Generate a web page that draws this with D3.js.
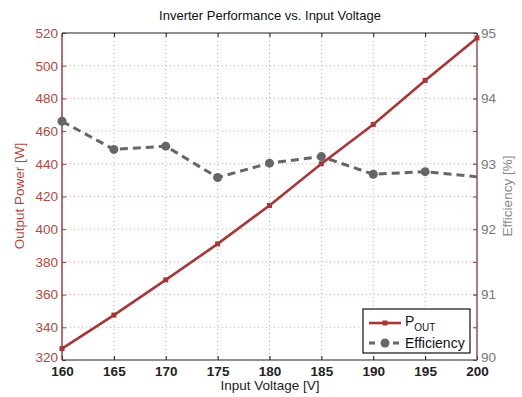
<!DOCTYPE html>
<html>
<head>
<meta charset="utf-8">
<script src="https://cdn.jsdelivr.net/npm/d3@7"></script>
<style>
  body { margin: 0; background: #fff; }
  text { font-family: "Liberation Sans", Arial, sans-serif; }
</style>
</head>
<body>
<svg id="chart" width="522" height="397"></svg>
<script>
// data
const voltage = [160, 165, 170, 175, 180, 185, 190, 195, 200];
const powerOut = [327, 347.5, 369, 391, 414.5, 440, 464, 491, 517];
const efficiency = [93.65, 93.22, 93.27, 92.79, 93.01, 93.11, 92.84, 92.88, 92.8];
const powerTicks = [320, 340, 360, 380, 400, 420, 440, 460, 480, 500, 520];
const effTicks = [90, 91, 92, 93, 94, 95];
const voltTicks = [160, 165, 170, 175, 180, 185, 190, 195, 200];

const RED = "#a83636";
const GREY = "#666";
const margin = { top: 33, right: 45, bottom: 37, left: 62 };
const width = 522 - margin.left - margin.right;
const height = 397 - margin.top - margin.bottom;

const svg = d3.select("#chart");
const g = svg.append("g").attr("transform", `translate(${margin.left},${margin.top})`);

const x = d3.scaleLinear().domain([160, 200]).range([0, width]);
const yP = d3.scaleLinear().domain([320, 520]).range([height, 0]);
const yE = d3.scaleLinear().domain([90, 95]).range([height, 0]);

// grid
g.append("g").selectAll("line").data(voltTicks.slice(1, -1)).join("line")
  .attr("x1", (d) => x(d)).attr("x2", (d) => x(d))
  .attr("y1", 0).attr("y2", height)
  .attr("stroke", "#999").attr("stroke-width", 0.8)
  .attr("stroke-dasharray", "1,3");
g.append("g").selectAll("line").data(powerTicks.slice(1, -1)).join("line")
  .attr("x1", 0).attr("x2", width)
  .attr("y1", (d) => yP(d)).attr("y2", (d) => yP(d))
  .attr("stroke", "#e08a8a").attr("stroke-width", 0.8)
  .attr("stroke-dasharray", "1,3");

// axes
const styleAxis = (sel, color, size) => {
  sel.select(".domain").remove();
  sel.selectAll("line").attr("stroke", color);
  sel.selectAll("text").attr("fill", color).attr("font-size", size)
    .attr("font-family", "Liberation Sans, Arial, sans-serif");
  return sel;
};

const xAxis = g.append("g").attr("transform", `translate(0,${height})`)
  .call(d3.axisBottom(x).tickValues(voltTicks).tickSize(-4).tickPadding(6).tickFormat(d3.format("d")));
styleAxis(xAxis, "#111", 13.5);
xAxis.selectAll("text").attr("font-weight", "bold").attr("fill", "#222");

g.append("g")
  .call(d3.axisTop(x).tickValues(voltTicks).tickSize(-4).tickFormat(""))
  .call((s) => styleAxis(s, "#111", 12));

const leftAxis = g.append("g")
  .call(d3.axisLeft(yP).tickValues(powerTicks).tickSize(-4).tickPadding(4));
styleAxis(leftAxis, RED, 13.5);
leftAxis.selectAll("text").attr("fill", "#b4483c");

g.append("g").attr("transform", `translate(${width},0)`)
  .call(d3.axisLeft(yP).tickValues(powerTicks).tickSize(4).tickFormat(""))
  .call((s) => styleAxis(s, RED, 12));

const rightAxis = g.append("g").attr("transform", `translate(${width},0)`)
  .call(d3.axisRight(yE).tickValues(effTicks).tickSize(-4).tickPadding(4).tickFormat(d3.format("d")));
styleAxis(rightAxis, "#777", 13.5);
rightAxis.select(".tick:first-of-type text").attr("dy", "0.1em");
leftAxis.select(".tick:first-of-type text").attr("dy", "0.1em");

// frame
g.append("line").attr("x1", 0).attr("x2", width).attr("y1", 0).attr("y2", 0)
  .attr("stroke", "#222").attr("stroke-width", 1.2);
g.append("line").attr("x1", 0).attr("x2", width).attr("y1", height).attr("y2", height)
  .attr("stroke", "#222").attr("stroke-width", 1.2);
g.append("line").attr("x1", 0).attr("x2", 0).attr("y1", 0).attr("y2", height)
  .attr("stroke", "#9c3030").attr("stroke-width", 1.4);
g.append("line").attr("x1", width).attr("x2", width).attr("y1", 0).attr("y2", height)
  .attr("stroke", "#8a4646").attr("stroke-width", 1.4);

// efficiency series
const effData = voltage.map((v, i) => ({ v, val: efficiency[i] }));
g.append("path").datum(effData)
  .attr("fill", "none").attr("stroke", GREY).attr("stroke-width", 3)
  .attr("stroke-dasharray", "8,5")
  .attr("d", d3.line().x((d) => x(d.v)).y((d) => yE(d.val)));
g.append("g").selectAll("circle").data(effData.slice(0, -1)).join("circle")
  .attr("cx", (d) => x(d.v)).attr("cy", (d) => yE(d.val)).attr("r", 4.5)
  .attr("fill", GREY);

// power series
const powData = voltage.map((v, i) => ({ v, val: powerOut[i] }));
g.append("path").datum(powData)
  .attr("fill", "none").attr("stroke", RED).attr("stroke-width", 2.6)
  .attr("d", d3.line().x((d) => x(d.v)).y((d) => yP(d.val)));
g.append("g").selectAll("rect").data(powData).join("rect")
  .attr("x", (d) => x(d.v) - 2.5).attr("y", (d) => yP(d.val) - 2.5)
  .attr("width", 5).attr("height", 5).attr("fill", RED);

// labels
svg.append("text").attr("x", 270).attr("y", 20).attr("text-anchor", "middle")
  .attr("font-size", 13).attr("fill", "#111")
  .text("Inverter Performance vs. Input Voltage");
svg.append("text").attr("x", 270).attr("y", 390).attr("text-anchor", "middle")
  .attr("font-size", 13.5).attr("fill", "#222")
  .text("Input Voltage [V]");
svg.append("text").attr("transform", "translate(24,196) rotate(-90)")
  .attr("text-anchor", "middle").attr("font-size", 13.5).attr("fill", "#b4483c")
  .text("Output Power [W]");
svg.append("text").attr("transform", "translate(512,196) rotate(-90)")
  .attr("text-anchor", "middle").attr("font-size", 13.5).attr("fill", "#888")
  .text("Efficiency [%]");

// legend
const lg = svg.append("g").attr("transform", "translate(363,309)");
lg.append("rect").attr("width", 107).attr("height", 44)
  .attr("fill", "#fff").attr("stroke", "#111").attr("stroke-width", 1.2);
lg.append("line").attr("x1", 6).attr("x2", 38).attr("y1", 14).attr("y2", 14)
  .attr("stroke", RED).attr("stroke-width", 2.6);
lg.append("rect").attr("x", 19.5).attr("y", 11.5).attr("width", 5).attr("height", 5).attr("fill", RED);
const pt = lg.append("text").attr("x", 42).attr("y", 17).attr("font-size", 14).attr("fill", "#111");
pt.append("tspan").text("P");
pt.append("tspan").attr("font-size", 10).attr("dy", 5).text("OUT");
lg.append("line").attr("x1", 6).attr("x2", 38).attr("y1", 34).attr("y2", 34)
  .attr("stroke", GREY).attr("stroke-width", 3).attr("stroke-dasharray", "6,6");
lg.append("circle").attr("cx", 22).attr("cy", 34).attr("r", 4.5).attr("fill", GREY);
lg.append("text").attr("x", 42).attr("y", 39).attr("font-size", 14).attr("fill", "#111")
  .text("Efficiency");
</script>
</body>
</html>
